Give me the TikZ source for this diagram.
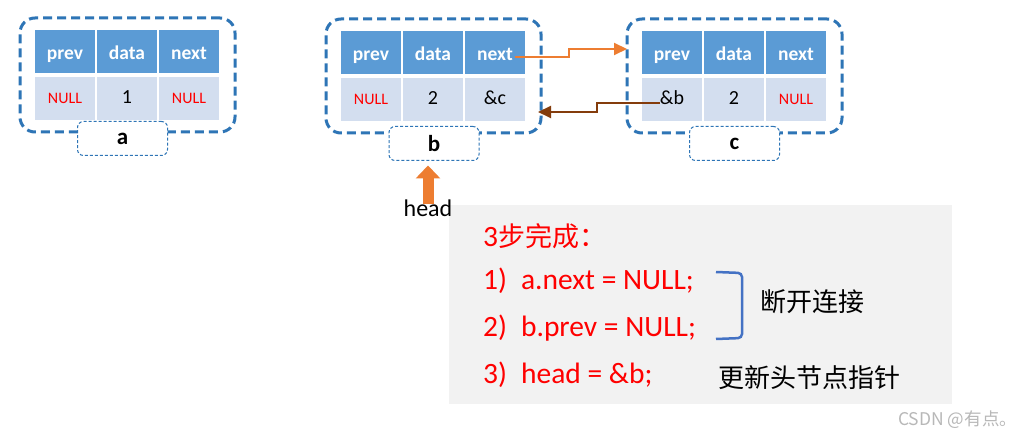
\documentclass[tikz,border=0pt]{standalone}
\usepackage{fontspec}
\setmainfont{Carlito}
\newfontfamily\cjk{Noto Sans CJK SC}
\usetikzlibrary{arrows.meta}
\definecolor{hdr}{HTML}{5B9BD5}
\definecolor{rowc}{HTML}{D3DEEF}
\definecolor{boxblue}{HTML}{2E75B6}
\definecolor{orangeA}{HTML}{ED7D31}
\definecolor{brownA}{HTML}{843C0C}
\definecolor{bracketblue}{HTML}{4472C4}
\definecolor{graybg}{HTML}{F2F2F2}
\newcommand\nulltxt{\textcolor{red}{\fontsize{16}{16}\selectfont NULL}}
\tikzset{
  outerbox/.style={draw=boxblue, line width=3pt, dash pattern=on 9pt off 5pt, rounded corners=15pt, minimum width=215pt, minimum height=114pt, inner sep=0pt, outer sep=0pt},
  hcell/.style={fill=hdr, text=white, font=\fontsize{19.5}{19.5}\selectfont\bfseries, minimum width=60pt, minimum height=43pt, inner sep=0pt, text height=21pt, text depth=4pt},
  vcell/.style={fill=rowc, text=black, font=\fontsize{20}{20}\selectfont, minimum width=60pt, minimum height=43pt, inner sep=0pt, text height=13pt, text depth=2pt},
  lblbox/.style={draw=boxblue, fill=white, line width=1pt, dash pattern=on 3pt off 2pt, rounded corners=6pt, minimum width=90pt, minimum height=34pt, font=\fontsize{23}{23}\selectfont\bfseries, inner sep=0pt, outer sep=0pt},
  redtxt/.style={text=red, font=\fontsize{29.5}{29.5}\selectfont, anchor=base west, inner sep=0pt},
  cjktxt/.style={text=black, font=\cjk\fontsize{26}{26}\selectfont, anchor=west, inner sep=0pt},
}
% #1 name, #2 x0, #3 y0, #4 prev, #5 data, #6 next, #7 label, #8 label cx, #9 label cy
\newcommand\dllnode[9]{%
  \node[outerbox] (#1o) at (#2+92.5, #3+45) {};
  \node[hcell] (#1h1) at (#2+30, #3+21.5) {prev};
  \node[hcell] (#1h2) at (#2+92, #3+21.5) {data};
  \node[hcell] (#1h3) at (#2+154, #3+21.5) {next};
  \node[vcell] (#1v1) at (#2+30, #3+68.5) {#4};
  \node[vcell] (#1v2) at (#2+92, #3+68.5) {#5};
  \node[vcell] (#1v3) at (#2+154, #3+68.5) {#6};
  \node[lblbox] (#1l) at (#8, #9) {#7};
}
\begin{document}
\begin{tikzpicture}[x=1pt,y=-1pt]
\useasboundingbox (0,0) rectangle (1036,438);
\fill[white] (0,0) rectangle (1036,438);
\dllnode{a}{35}{30}{\nulltxt}{1}{\nulltxt}{a}{122.5}{138.5}
\dllnode{b}{341}{31}{\nulltxt}{2}{\&c}{b}{434}{143.5}
\dllnode{c}{642}{31}{\&b}{2}{\nulltxt}{c}{734.5}{143.5}
% next pointer b -> c
\draw[orangeA, line width=2pt, -{Triangle[length=13pt 0, width=12pt 0]}]
  ([shift={(20,4.5)}]bh3.center) -| (569,49) -- (co.west |- 569,49);
% prev pointer c -> b
\draw[brownA, line width=2pt, -{Triangle[length=13pt 0, width=12pt 0]}, shorten >=-3pt]
  ([shift={(-12,4)}]cv1.center) -| (597,112) -- (bo.east |- 597,112);
% steps panel
\node[fill=graybg, minimum width=503pt, minimum height=199pt, inner sep=0pt] (panel) at (700.5,304.5) {};
% head
\node[font=\fontsize{24}{24}\selectfont, inner sep=0pt] (head) at (428,208) {head};
\draw[orangeA, line width=11pt, -{Triangle[length=13pt 0, width=24pt 0]}]
  ([yshift=-5pt]head.north) -- ([yshift=-5pt]head.north |- bl.south);
\node[redtxt] (s0) at (483,247) {3{\cjk\fontsize{27}{27}\selectfont 步完成：}};
\node[redtxt] (s1) at (483,290) {1)\hspace{14pt}a.next = NULL;};
\node[redtxt] (s2) at (483,337) {2)\hspace{14pt}b.prev = NULL;};
\node[redtxt] (s3) at (483,383) {3)\hspace{14pt}head = \&b;};
\coordinate (bt) at (716,272);
\coordinate (bb) at (716,339);
\draw[bracketblue, line width=2.5pt, rounded corners=4pt] (bt) -- (742,273) -- (742,338) -- (bb);
\node[cjktxt] (t1) at (760,302) {断开连接};
\node[cjktxt] (t2) at (718,378) {更新头节点指针};
\node[text=black!28, font=\cjk\fontsize{17.5}{17.5}\selectfont, anchor=west, inner sep=0pt] (wm) at (898,420) {CSDN @有点。};
\end{tikzpicture}
\end{document}
